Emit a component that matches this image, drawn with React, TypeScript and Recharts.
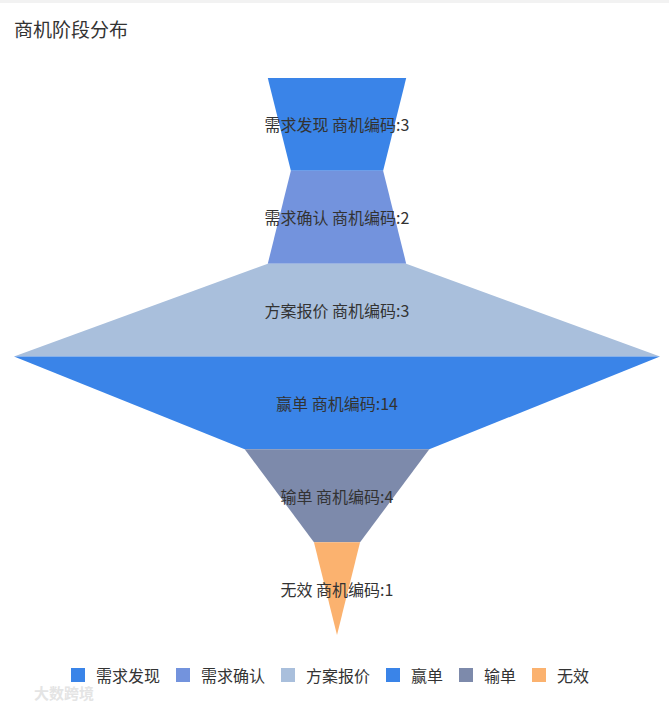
import React from 'react';
import { FunnelChart, Funnel, Cell, LabelList } from 'recharts';

const stages = ['需求发现', '需求确认', '方案报价', '赢单', '输单', '无效'];
const counts = [3, 2, 3, 14, 4, 1];
const colors = ['#3a84e8', '#7393dd', '#a9bfdc', '#3a84e8', '#7d8aab', '#fbb26f'];
const metricName = '商机编码';
const title = '商机阶段分布';

const data = stages.map((s, i) => ({ name: s, value: counts[i], label: `${s} ${metricName}:${counts[i]}` }));

const font = '"Noto Sans CJK SC", "Noto Sans", sans-serif';

const renderLabel = (p: any) => {
  const vb = p.viewBox || p;
  const w = vb.upperWidth != null ? vb.upperWidth : vb.width;
  const cx = vb.x + w / 2;
  const cy = vb.y + vb.height / 2;
  return (
    <text x={cx} y={cy} textAnchor="middle" dominantBaseline="central" fill="#333" fontSize={16} fontFamily={font}>
      {p.value}
    </text>
  );
};

export default function App() {
  return (
    <div style={{ position: 'absolute', left: 0, top: 0, width: 669, height: 708, background: '#fff', fontFamily: font, overflow: 'hidden' }}>
      <div style={{ height: 3, background: '#f2f2f2' }} />
      <div style={{ position: 'absolute', left: 14, top: 16, fontSize: 19, color: '#333', lineHeight: '26px' }}>{title}</div>
      <div style={{ position: 'absolute', left: 0, top: 0 }}>
        <FunnelChart width={669} height={708} margin={{ top: 78, left: 14, right: 9, bottom: 73 }}>
          <Funnel dataKey="value" data={data} isAnimationActive={false} stroke="none">
            {data.map((d, i) => (
              <Cell key={d.name} fill={colors[i]} stroke="none" />
            ))}
            <LabelList dataKey="label" content={renderLabel} />
          </Funnel>
        </FunnelChart>
      </div>
      <div style={{ position: 'absolute', left: 71, top: 664, display: 'flex', alignItems: 'center', fontSize: 16, color: '#333', lineHeight: '22px' }}>
        {stages.map((s, i) => (
          <div key={s} style={{ display: 'flex', alignItems: 'center', marginRight: 16 }}>
            <span style={{ width: 14, height: 14, background: colors[i], display: 'inline-block', marginRight: 11 }} />
            <span>{s}</span>
          </div>
        ))}
      </div>
      <div style={{ position: 'absolute', left: 34, top: 682, fontSize: 15, color: '#e4e4e4', fontWeight: 700 }}>大数跨境</div>
    </div>
  );
}
